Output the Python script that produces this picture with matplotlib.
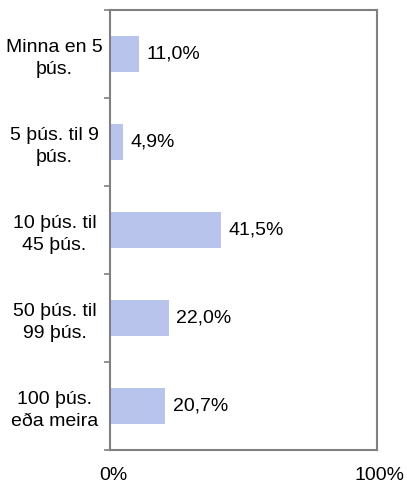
import matplotlib
matplotlib.use("Agg")
import matplotlib.pyplot as plt
import matplotlib.transforms as mtransforms

categories = ["Minna en 5\nþús.", "5 þús. til 9\nþús.", "10 þús. til\n45 þús.", "50 þús. til\n99 þús.", "100 þús.\neða meira"]
values = [11.0, 4.9, 41.5, 22.0, 20.7]
labels = ["11,0%", "4,9%", "41,5%", "22,0%", "20,7%"]
xticklabels = ["0%", "100%"]

plt.rcParams['font.family'] = ['Liberation Sans', 'DejaVu Sans']
fig = plt.figure(figsize=(4.07, 4.88), dpi=100)
ax = fig.add_axes([110/407, 1-450/488, 267/407, 440/488])

ypos = list(range(len(values)))
ax.barh(ypos, values, height=0.41, color="#B8C4EC", zorder=2)
for y, v, lab in zip(ypos, values, labels):
    ax.text(v + 2.8, y, lab, va="center", ha="left", fontsize=14)

ax.set_xlim(0, 100)
ax.set_ylim(len(values) - 0.5, -0.5)
ax.set_yticks(ypos)
ax.set_yticklabels(categories, fontsize=14, ha="center", linespacing=1.4)
ax.tick_params(axis="y", length=0, pad=40)
ax.set_yticks([i - 0.5 for i in range(len(values) + 1)], minor=True)
ax.tick_params(axis="y", which="minor", length=4, color="#808080", width=1.2, direction="out")
ax.set_xticks([0, 100])
ax.set_xticklabels(xticklabels, fontsize=14)
ax.tick_params(axis="x", length=0, pad=12.5)
shift = mtransforms.ScaledTranslation(3/100, 0, fig.dpi_scale_trans)
for lab in ax.get_xticklabels():
    lab.set_transform(lab.get_transform() + shift)
for s in ax.spines.values():
    s.set_color("#808080")
    s.set_linewidth(1.5)

fig.savefig("out.png", dpi=100)
